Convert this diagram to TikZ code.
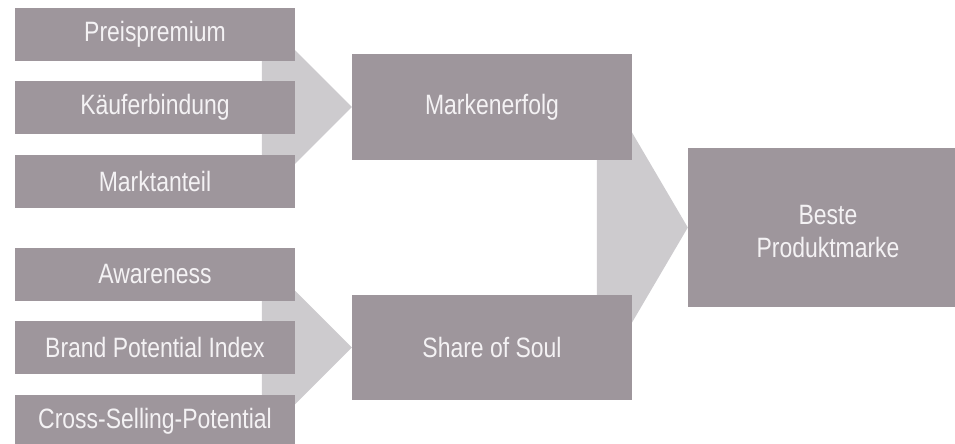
\documentclass[tikz,border=0pt]{standalone}
\usepackage{fontspec}
\setmainfont{Liberation Sans}[FakeStretch=0.82]
\usetikzlibrary{calc,backgrounds}
\definecolor{boxgray}{HTML}{9E969C}
\definecolor{arrowgray}{HTML}{CDCBCE}
\definecolor{txtwhite}{HTML}{F4F2F4}
\tikzset{
  box/.style={fill=boxgray, draw=none, text=txtwhite, inner sep=0pt,
    align=center, font=\fontsize{28}{33}\selectfont},
  smallbox/.style={box, minimum width=280pt, minimum height=53pt},
  midbox/.style={box, minimum width=280pt, minimum height=106pt},
  bigbox/.style={box, minimum width=280pt, minimum height=159pt},
  arrowshape/.style={fill=arrowgray, draw=none}
}
\begin{document}
\begin{tikzpicture}[x=1pt, y=-1pt]
\useasboundingbox (0,0) rectangle (955,444);
% boxes
\node[smallbox] (pre) at (155,34.5) {Preispremium};
\node[smallbox] (kae) at (155,107.5) {Käuferbindung};
\node[smallbox] (mar) at (155,181.5) {Marktanteil};
\node[smallbox] (awa) at (155,274.5) {Awareness};
\node[smallbox] (bpi) at (155,347.5) {Brand Potential Index};
\node[smallbox] (csp) at (155,421.5) {Cross-Selling-Potential};
\node[midbox] (me) at (492,107) {Markenerfolg};
\node[midbox, minimum height=105pt] (sos) at (492,347.5) {Share of Soul};
\node[bigbox] (bpm) at (828,227.5) {\rule{0pt}{28pt}Beste\\Produktmarke};
% arrows behind the boxes
\begin{scope}[on background layer]
\fill[arrowshape] (me.west) -- ++(-90,-90) -- ++(0,180) -- cycle;
\fill[arrowshape] (sos.west) -- ++(-90,-90) -- ++(0,180) -- cycle;
\fill[arrowshape] (bpm.west) -- ++(-91,-155) -- ++(0,310) -- cycle;
\end{scope}
\end{tikzpicture}
\end{document}
